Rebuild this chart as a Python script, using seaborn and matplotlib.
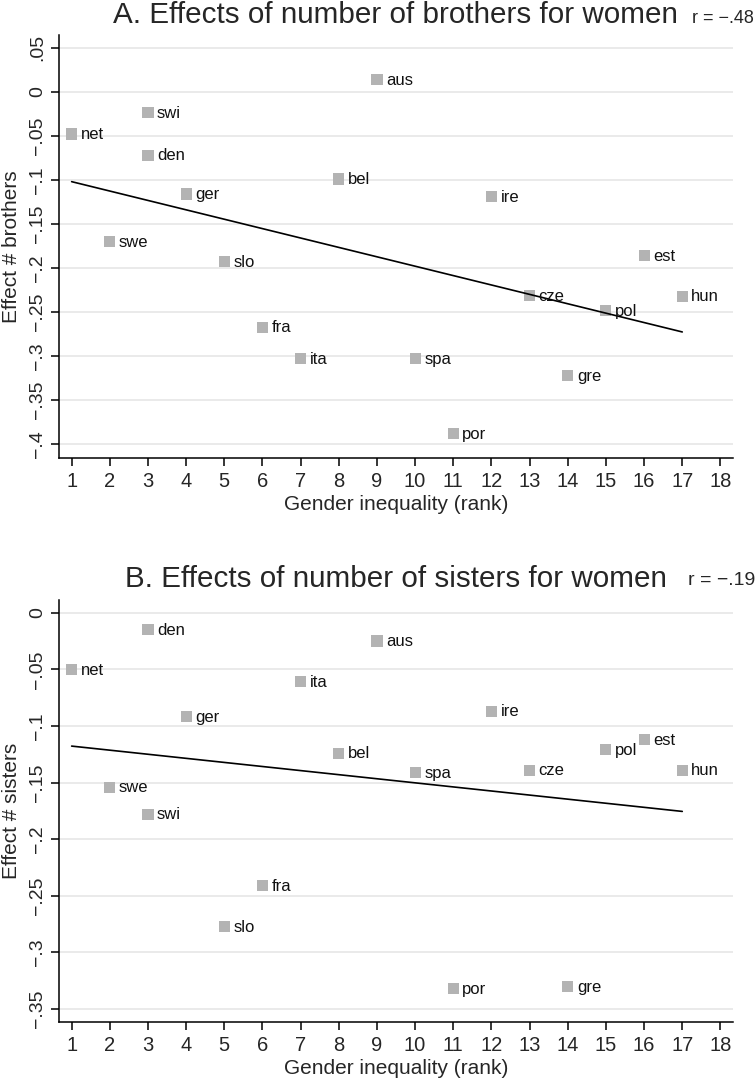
import matplotlib
matplotlib.use("Agg")
import matplotlib.pyplot as plt
import seaborn as sns
import pandas as pd

# countries ordered by gender inequality rank
countries = ["net", "swe", "swi", "den", "ger", "slo", "fra", "ita", "bel",
             "aus", "spa", "por", "ire", "cze", "gre", "pol", "est", "hun"]
rank = [1, 2, 3, 3, 4, 5, 6, 7, 8, 9, 10, 11, 12, 13, 14, 15, 16, 17]

# panel A: effect of number of brothers
brothers = [-0.048, -0.170, -0.024, -0.072, -0.116, -0.193, -0.267, -0.303, -0.099,
            0.014, -0.303, -0.388, -0.119, -0.231, -0.322, -0.248, -0.186, -0.232]
# panel B: effect of number of sisters
sisters = [-0.050, -0.154, -0.178, -0.015, -0.092, -0.277, -0.241, -0.061, -0.124,
           -0.025, -0.141, -0.332, -0.087, -0.139, -0.330, -0.121, -0.112, -0.139]

xticks = [1, 2, 3, 4, 5, 6, 7, 8, 9, 10, 11, 12, 13, 14, 15, 16, 17, 18]
yticks_a = [-0.4, -0.35, -0.3, -0.25, -0.2, -0.15, -0.1, -0.05, 0, 0.05]
ylabels_a = ["\u2212.4", "\u2212.35", "\u2212.3", "\u2212.25", "\u2212.2",
             "\u2212.15", "\u2212.1", "\u2212.05", "0", ".05"]
yticks_b = [-0.35, -0.3, -0.25, -0.2, -0.15, -0.1, -0.05, 0]
ylabels_b = ["\u2212.35", "\u2212.3", "\u2212.25", "\u2212.2",
             "\u2212.15", "\u2212.1", "\u2212.05", "0"]

title_a = "A. Effects of number of brothers for women"
title_b = "B. Effects of number of sisters for women"
r_a = "r = \u2212.48"
r_b = "r = \u2212.19"

df = pd.DataFrame({"country": countries, "rank": rank,
                   "brothers": brothers, "sisters": sisters})

sns.set_theme(style="white")
plt.rcParams["font.family"] = ["Liberation Sans", "DejaVu Sans"]

fig = plt.figure(figsize=(7.56, 10.79), dpi=100)
ax_a = fig.add_axes([0.0776, 0.5758, 0.892, 0.3918])
ax_b = fig.add_axes([0.0776, 0.0528, 0.892, 0.3911])


def panel(ax, col, ylabel, yticks, ylabels, ylim):
    ax.set_axisbelow(True)
    ax.grid(axis="y", color="#e6e6e6", lw=1.2)
    ax.grid(axis="x", visible=False)
    sns.scatterplot(data=df, x="rank", y=col, ax=ax, marker="s", s=64,
                    color="#b3b3b3", edgecolor="none", linewidth=0, zorder=3)
    # linear fit over the data range
    sns.regplot(data=df, x="rank", y=col, ax=ax, scatter=False, ci=None,
                color="black", line_kws={"lw": 1.2, "zorder": 4})
    for c, x, y in zip(df["country"], df["rank"], df[col]):
        ax.annotate(c, (x, y), xytext=(6.5, -0.5), textcoords="offset points",
                    ha="left", va="center", fontsize=12, color="#111111", zorder=5)
    ax.set_xlim(0.66, 18.33)
    ax.set_ylim(*ylim)
    ax.set_xticks(xticks)
    ax.set_xticklabels([str(t) for t in xticks])
    ax.set_yticks(yticks)
    ax.set_yticklabels(ylabels, rotation=90, va="center")
    ax.set_xlabel("Gender inequality (rank)", fontsize=15, labelpad=3)
    ax.set_ylabel(ylabel, fontsize=15, labelpad=6)
    sns.despine(ax=ax)
    for s in ["left", "bottom"]:
        ax.spines[s].set_color("black")
        ax.spines[s].set_linewidth(1.1)
    ax.tick_params(axis="both", direction="out", length=6, width=1.1,
                   color="black", left=True, bottom=True)
    ax.tick_params(axis="x", labelsize=14.5, pad=4)
    ax.tick_params(axis="y", labelsize=14, pad=3)


panel(ax_a, "brothers", "Effect # brothers", yticks_a, ylabels_a, (-0.4152, 0.0644))
panel(ax_b, "sisters", "Effect # sisters", yticks_b, ylabels_b, (-0.3615, 0.0112))

fig.text(113 / 756, 1 - 23 / 1079, title_a, fontsize=21.3, ha="left", va="baseline")
fig.text(754 / 756, 1 - 23 / 1079, r_a, fontsize=13, ha="right", va="baseline")
fig.text(125 / 756, 1 - 587 / 1079, title_b, fontsize=21.3, ha="left", va="baseline")
fig.text(755 / 756, 1 - 585 / 1079, r_b, fontsize=14, ha="right", va="baseline")

fig.savefig("out.png", dpi=100, facecolor="white")
